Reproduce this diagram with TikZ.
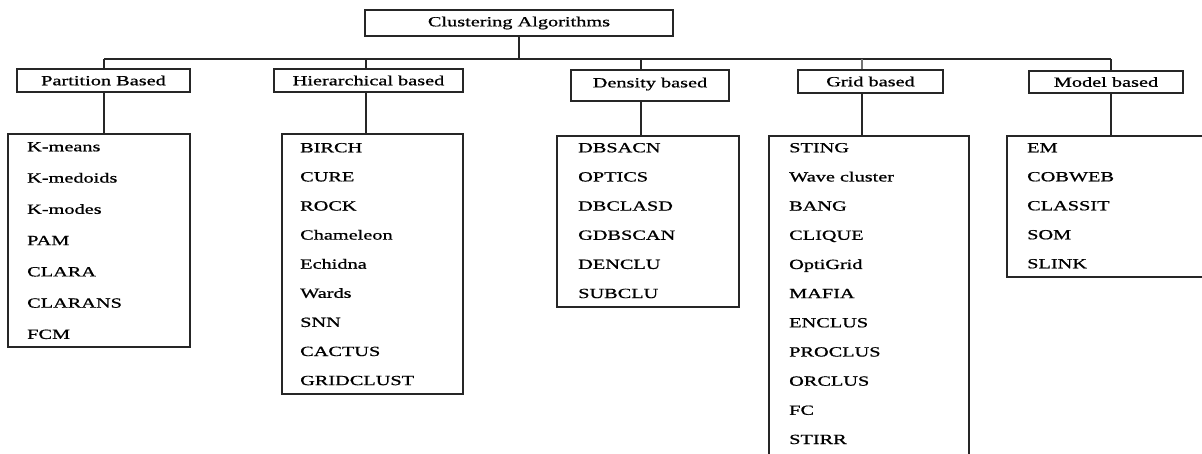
\documentclass[tikz,border=0pt]{standalone}
\usepackage{fontspec}
\newfontfamily\diagfont[FakeStretch=1.45,FakeBold=0.9]{Liberation Serif}
\begin{document}
\begin{tikzpicture}[x=1pt,y=-1pt,
  txt/.style={font=\diagfont\fontsize{14}{16}\selectfont, text=black},
  box/.style={draw=black!85, line width=1.2pt, inner sep=0pt, txt},
  item/.style={anchor=base west, inner sep=0pt, txt},
  link/.style={draw=black!85, line width=1.2pt}]
\useasboundingbox (0,0) rectangle (1202,453);
\clip (0,0) rectangle (1202,453);

% root
\node[box, minimum width=308pt, minimum height=26pt] (root) at (519,23) {Clustering Algorithms};

% categories
\node[box, minimum width=173pt, minimum height=23pt] (p-cat) at (103.5,80.5) {Partition Based};
\node[box, minimum width=189pt, minimum height=23pt] (h-cat) at (368.5,80.5) {Hierarchical based};
\node[box, minimum width=158pt, minimum height=31pt, text depth=6pt] (d-cat) at (650,85.5) {Density based};
\node[box, minimum width=145pt, minimum height=23pt] (g-cat) at (870.5,81.5) {Grid based};
\node[box, minimum width=154pt, minimum height=22pt] (m-cat) at (1106,82) {Model based};

% algorithm lists
\node[box, minimum width=182pt, minimum height=213pt] (p-list) at (99,240.5) {};
\node[box, minimum width=181pt, minimum height=260pt] (h-list) at (372.5,264) {};
\node[box, minimum width=182pt, minimum height=171pt] (d-list) at (648,221.5) {};
\node[box, minimum width=200pt, minimum height=344pt] (g-list) at (869,308) {};
\node[box, minimum width=213pt, minimum height=141pt] (m-list) at (1113.5,206.5) {};

\foreach \t [count=\i from 0] in {K-means,K-medoids,K-modes,PAM,CLARA,CLARANS,FCM}
  \node[item] (p-\i) at (27,151.3+31.27*\i) {\t};
\foreach \t [count=\i from 0] in {BIRCH,CURE,ROCK,Chameleon,Echidna,Wards,SNN,CACTUS,GRIDCLUST}
  \node[item] (h-\i) at (300,152.3+29.1*\i) {\t};
\foreach \t [count=\i from 0] in {DBSACN,OPTICS,DBCLASD,GDBSCAN,DENCLU,SUBCLU}
  \node[item] (d-\i) at (578,152.3+29.15*\i) {\t};
\foreach \t [count=\i from 0] in {STING,Wave cluster,BANG,CLIQUE,OptiGrid,MAFIA,ENCLUS,PROCLUS,ORCLUS,FC,STIRR}
  \node[item] (g-\i) at (789,152.3+29.17*\i) {\t};
\foreach \t [count=\i from 0] in {EM,COBWEB,CLASSIT,SOM,SLINK}
  \node[item] (m-\i) at (1027,152.3+29.0*\i) {\t};

% junctions on the bus
\coordinate (p-j) at (104,59);
\coordinate (h-j) at (366,59);
\coordinate (d-j) at (641,59);
\coordinate (g-j) at (862,59);
\coordinate (m-j) at (1111,59);

% connectors
\draw[link] (p-j) -- (m-j);
\draw[link] (root.south) -- (root.south |- p-j);
\foreach \k in {p,h,d,m}
  \draw[link] (\k-j) -- (\k-j |- \k-cat.north);
\draw[link, draw=black!55] (g-j) -- (g-j |- g-cat.north);
\foreach \k in {p,h,d,g,m}
  \draw[link] (\k-j |- \k-cat.south) -- (\k-j |- \k-list.north);
\end{tikzpicture}
\end{document}
